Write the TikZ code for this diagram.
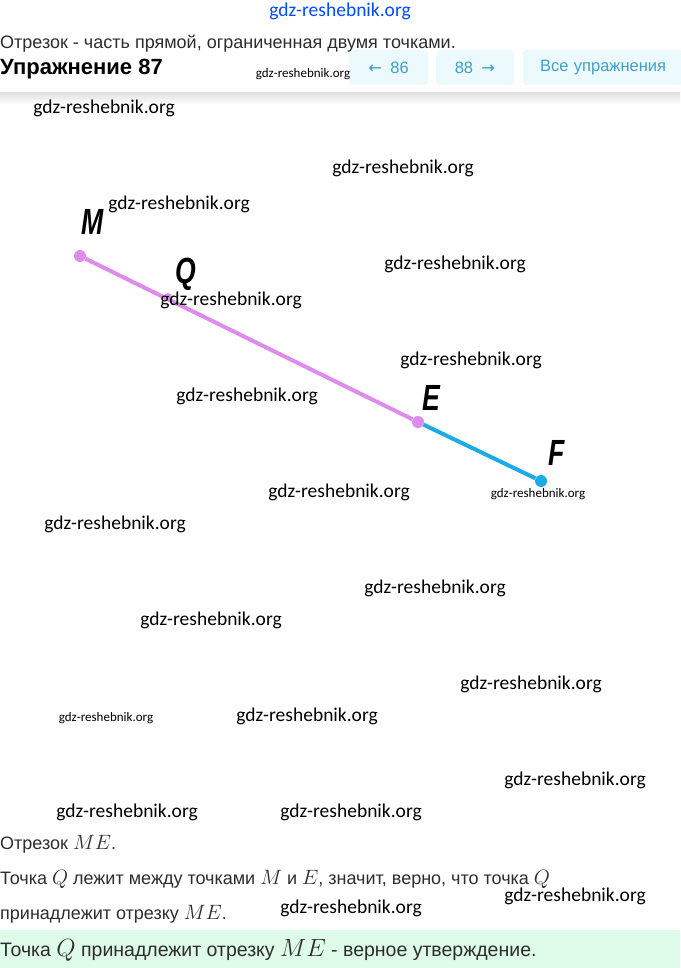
\documentclass[tikz,border=0pt]{standalone}
\usepackage{fontspec}
\usepackage{graphicx}
\setmainfont{Liberation Sans}
\newfontfamily\mwmfont{Carlito}
\newfontfamily\marrfont{DejaVu Sans}
\def\mdot{12}
\def\mwidth{680}
\def\mheight{968}
\newcommand\mvar[1]{{\fontsize{22}{22}\selectfont$#1$}}
\newcommand\mbigvar[1]{{\fontsize{24}{24}\selectfont$#1$}}
\newcommand\mtall[1]{\scalebox{0.95}[1.3]{#1}}
\definecolor{mviolet}{RGB}{222,140,236}
\definecolor{mblue}{RGB}{30,170,228}
\definecolor{mbtnfill}{RGB}{236,250,253}
\definecolor{mbtntext}{RGB}{64,160,204}
\definecolor{mgreen}{RGB}{222,250,232}
\definecolor{mtext}{RGB}{45,45,45}
\tikzset{
	wm/.style={font=\mwmfont\fontsize{19.5}{19.5}\selectfont, inner sep=0pt},
	wm small/.style={font=\mwmfont\fontsize{13}{13}\selectfont, inner sep=0pt},
	pt/.style={circle, fill=#1, inner sep=0pt, minimum size=\mdot},
	pt label/.style={font=\fontsize{28}{28}\selectfont\bfseries\itshape, inner sep=0pt},
	btn/.style={fill=mbtnfill, rounded corners=4, minimum height=35, inner sep=0pt, text=mbtntext, font=\fontsize{16.5}{16.5}\selectfont},
	text line/.style={anchor=base west, inner sep=0pt, text=mtext, font=\fontsize{18}{18}\selectfont}
}

\begin{document}
\begin{tikzpicture}[x=1pt, y=-1pt]
		\fill[white] (0,0) rectangle (\mwidth,\mheight);
		\useasboundingbox (0,0) rectangle (\mwidth,\mheight);
		% Header
		\shade[top color=gray!25, bottom color=white] (0,92) rectangle (\mwidth,104);
		\fill[white] (0,0) rectangle (\mwidth,92);
		\node[text line] (def) at (0,49) {Отрезок - часть прямой, ограниченная двумя точками.};
		\node[text line, font=\fontsize{22}{22}\selectfont\bfseries, text=black] (title) at (0,75) {Упражнение 87};
		\node[btn, minimum width=79] (prev) at (388.5,67.5) {{\marrfont ←}\enspace 86};
		\node[btn, minimum width=78] (next) at (475,67.5) {88\enspace{\marrfont →}};
		\node[btn, minimum width=160, text width=160, align=left] (all) at (603,67.5) {\hspace{17pt}Все упражнения};
		% Segments
		\node[pt=mviolet] (M) at (80,256) {};
		\node[pt=mviolet, minimum size=8] (Q) at (168,297) {};
		\node[pt=mviolet] (E) at (418,422) {};
		\node[pt=mblue] (F) at (541,481) {};
		\draw[mviolet, line width=4] (M) -- (E);
		\draw[mblue, line width=4] (E) -- (F);
		\node[pt label] (lM) at (93,222) {\mtall{M}};
		\node[pt label] (lQ) at (186,274) {\mtall{Q}};
		\node[pt label] (lE) at (431,398) {\mtall{E}};
		\node[pt label] (lF) at (557,453) {\mtall{F}};
		% Solution
		\node[text line] (s1) at (0,849) {Отрезок \mvar{ME}.};
		\node[text line] (s2) at (0,884) {Точка \mvar{Q} лежит между точками \mvar{M} и \mvar{E}, значит, верно, что точка \mvar{Q}};
		\node[text line] (s3) at (0,919) {принадлежит отрезку \mvar{ME}.};
		\fill[mgreen] (0,930) rectangle (\mwidth,\mheight);
		\node[text line, font=\fontsize{19.5}{19.5}\selectfont] (s4) at (0,956) {Точка \mbigvar{Q} принадлежит отрезку \mbigvar{ME} - верное утверждение.};
		% Watermarks
		\node[wm, text=blue!70!cyan] (w0) at (340,11) {gdz-reshebnik.org};
		\foreach \x/\y [count=\i] in {104/108, 403/168, 179/204, 455/264, 231/300, 471/360, 247/396, 339/492, 115/524, 435/588, 211/620, 531/684, 307/716, 575/780, 127/812, 351/812, 575/896, 351/908}
			\node[wm] (w\i) at (\x,\y) {gdz-reshebnik.org};
		\foreach \x/\y [count=\i] in {303/74, 538/494, 106/718}
			\node[wm small] (ws\i) at (\x,\y) {gdz-reshebnik.org};
	\end{tikzpicture}
\end{document}
